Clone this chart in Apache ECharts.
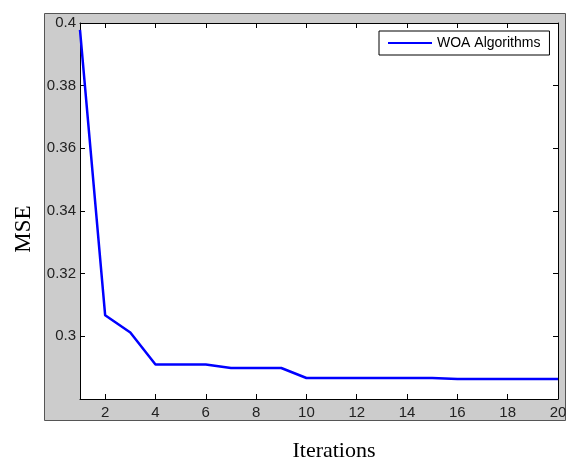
<!DOCTYPE html>
<html><head><meta charset="utf-8">
<script src="https://cdn.jsdelivr.net/npm/echarts@6/dist/echarts.min.js"></script>
<style>html,body{margin:0;padding:0;background:#fff}#c{width:570px;height:460px}</style>
</head><body><div id="c"></div>
<script>
const iterations = [1,2,3,4,5,6,7,8,9,10,11,12,13,14,15,16,17,18,19,20];
const mse = [0.3978,0.3067,0.3012,0.2910,0.2910,0.2910,0.2899,0.2899,0.2899,0.2867,0.2867,0.2867,0.2867,0.2867,0.2867,0.2864,0.2864,0.2864,0.2864,0.2864];
const xTicks = [2,4,6,8,10,12,14,16,18,20];
const yTicks = [0.3,0.32,0.34,0.36,0.38,0.4];
const seriesName = 'WOA Algorithms';
const xTitle = 'Iterations';
const yTitle = 'MSE';

const chart = echarts.init(document.getElementById('c'));
const tickFont = {fontFamily:'Liberation Sans, Arial', fontSize:15, color:'#222'};
const axisBase = {
  axisLine:{show:true, onZero:false, lineStyle:{color:'#000', width:1}},
  splitLine:{show:false}
};
const titleFont = 'Liberation Serif, Times New Roman';
chart.setOption({
  animation:false,
  backgroundColor:'#fff',
  graphic:[
    {type:'rect', z:-10, shape:{x:44.5,y:13.5,width:521,height:407}, style:{fill:'#cccccc', stroke:'#555', lineWidth:1}},
    {type:'text', x:334, y:451, style:{text:xTitle, fontFamily:titleFont, fontSize:22, fill:'#000', align:'center', verticalAlign:'middle'}},
    {type:'text', x:24, y:229, rotation:Math.PI/2, style:{text:yTitle, fontFamily:titleFont, fontSize:23, fill:'#000', align:'center', verticalAlign:'middle'}}
  ],
  grid:{left:80, top:23, right:12, bottom:61, show:true, backgroundColor:'#fff', borderWidth:0, outerBoundsMode:'none', containLabel:false},
  legend:{
    left:379, top:31, orient:'horizontal',
    backgroundColor:'#fff', borderColor:'#000', borderWidth:1, borderRadius:0,
    padding:[5,9,5,9], itemWidth:44, itemHeight:2, itemGap:5, icon:'rect',
    textStyle:{fontFamily:'Liberation Sans, Arial', fontSize:14, color:'#000', padding:[0,0,0,0]},
    data:[seriesName]
  },
  xAxis:[
    Object.assign({type:'value', min:1, max:20, position:'bottom',
      axisTick:{show:true, inside:true, length:5, customValues:xTicks, lineStyle:{color:'#000'}},
      axisLabel:Object.assign({customValues:xTicks, margin:6}, tickFont)}, axisBase),
    Object.assign({type:'value', min:1, max:20, position:'top',
      axisTick:{show:true, inside:true, length:5, customValues:xTicks, lineStyle:{color:'#000'}},
      axisLabel:{show:false}}, axisBase)
  ],
  yAxis:[
    Object.assign({type:'value', min:0.28, max:0.4, position:'left',
      axisTick:{show:true, inside:true, length:5, customValues:yTicks, lineStyle:{color:'#000'}},
      axisLabel:Object.assign({customValues:yTicks, margin:4}, tickFont)}, axisBase),
    Object.assign({type:'value', min:0.28, max:0.4, position:'right',
      axisTick:{show:true, inside:true, length:5, customValues:yTicks, lineStyle:{color:'#000'}},
      axisLabel:{show:false}}, axisBase)
  ],
  series:[{
    name:seriesName, type:'line', showSymbol:false, symbol:'none',
    data:iterations.map((x,i)=>[x, mse[i]]),
    lineStyle:{color:'#0000ff', width:2.5}, itemStyle:{color:'#0000ff'}
  }]
});
</script></body></html>
